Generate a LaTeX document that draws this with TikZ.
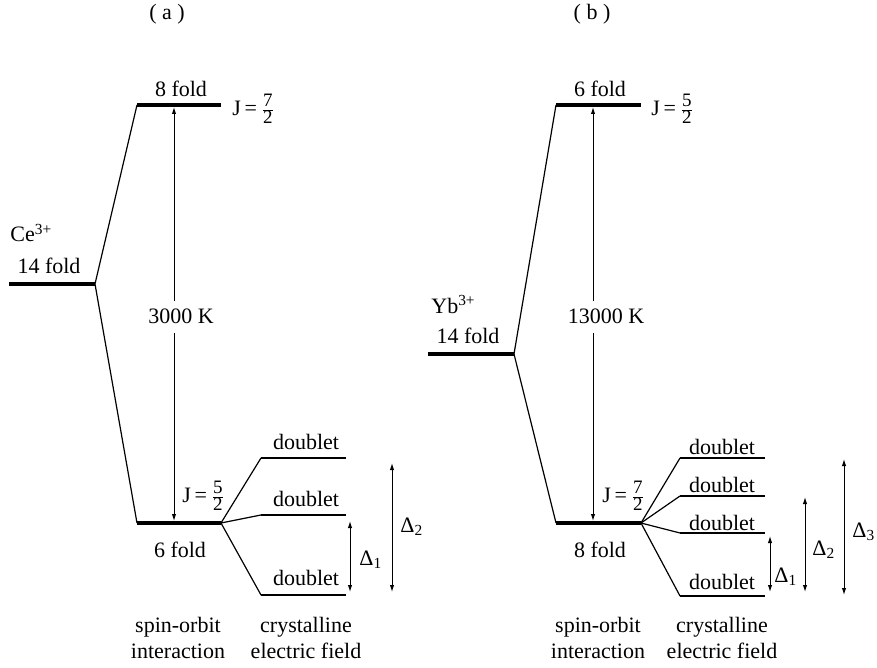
\documentclass[tikz,border=0pt]{standalone}
\usepackage{fontspec}
\setmainfont{Liberation Serif}
\usetikzlibrary{arrows.meta}

% fraction set in the text face
\newcommand{\tfr}[2]{$\frac{\mbox{\fontsize{9.5}{9.5}\selectfont #1}}{\mbox{\fontsize{9.5}{9.5}\selectfont #2}}$}
\newcommand{\dsub}[1]{Δ\textsubscript{#1}}

\begin{document}
\begin{tikzpicture}[x=0.5pt,y=-0.5pt,
  level/.style={line width=2pt},
  sublevel/.style={line width=1.2pt},
  link/.style={line width=0.6pt},
  gap/.style={line width=0.5pt,-{Latex[length=3.5pt,width=2.2pt]}},
  span/.style={line width=0.5pt,{Latex[length=3.5pt,width=2.2pt]}-{Latex[length=3.5pt,width=2.2pt]}},
  lbl/.style={font=\fontsize{11}{13}\selectfont, inner sep=0pt},
]
\useasboundingbox (0,0) rectangle (877,668);

% ---------------- (a) Ce3+ ----------------
\node[lbl, anchor=base] (ta) at (167,20) {( a )};

% levels
\coordinate (a14l) at (9,284);   \coordinate (a14r) at (95,284);
\coordinate (a8l)  at (137,105); \coordinate (a8r)  at (221,105);
\coordinate (a6l)  at (137,523); \coordinate (a6r)  at (221,523);
\coordinate (ad1l) at (261,458); \coordinate (ad1r) at (346,458);
\coordinate (ad2l) at (261,515); \coordinate (ad2r) at (346,515);
\coordinate (ad3l) at (261,595); \coordinate (ad3r) at (346,595);

\draw[level] (a14l) -- (a14r);
\draw[level] (a8l) -- (a8r);
\draw[level] (a6l) -- (a6r);
\draw[sublevel] (ad1l) -- (ad1r);
\draw[sublevel] (ad2l) -- (ad2r);
\draw[sublevel] (ad3l) -- (ad3r);

\draw[link] (a14r) -- (a8l);
\draw[link] (a14r) -- (a6l);
\draw[link] (a6r) -- (ad1l);
\draw[link] (a6r) -- (ad2l);
\draw[link] (a6r) -- (ad3l);

\node[lbl, anchor=base west] (cea) at (10,242) {Ce\textsuperscript{3+}};
\node[lbl, anchor=base] (f14a) at (49,273) {14 fold};
\node[lbl, anchor=base] (f8a) at (181,97) {8 fold};
\node[lbl, anchor=west] (j7a) at (232,109) {J\,=\,\tfr{7}{2}};
\node[lbl, anchor=base] (f6a) at (180,557) {6 fold};
\node[lbl, anchor=west] (j5a) at (182,496) {J\,=\,\tfr{5}{2}};
\node[lbl, anchor=base] (ka) at (181,323) {3000 K};

% splitting arrow
\coordinate (kau) at (174,301); \coordinate (kat) at (174,107);
\coordinate (kad) at (174,333); \coordinate (kab) at (174,521);
\draw[gap] (kau) -- (kat);
\draw[gap] (kad) -- (kab);

\node[lbl, anchor=base] (da1) at (306,449) {doublet};
\node[lbl, anchor=base] (da2) at (306,506) {doublet};
\node[lbl, anchor=base] (da3) at (306,585) {doublet};

% crystal-field gaps
\coordinate (aD1t) at (350,521); \coordinate (aD1b) at (350,592);
\coordinate (aD2t) at (392,463); \coordinate (aD2b) at (392,592);
\draw[span] (aD1t) -- (aD1b);
\draw[span] (aD2t) -- (aD2b);
\node[lbl, anchor=west] (aD1) at (359,560) {\dsub{1}};
\node[lbl, anchor=west] (aD2) at (400,527) {\dsub{2}};

\node[lbl, anchor=base] (soa) at (178,632) {spin-orbit};
\node[lbl, anchor=base] (soa2) at (178,658) {interaction};
\node[lbl, anchor=base] (cfa) at (306,632) {crystalline};
\node[lbl, anchor=base] (cfa2) at (306,658) {electric field};

% ---------------- (b) Yb3+ ----------------
\node[lbl, anchor=base] (tb) at (592,20) {( b )};

\coordinate (b14l) at (428,354); \coordinate (b14r) at (514,354);
\coordinate (b6l)  at (556,105); \coordinate (b6r)  at (641,105);
\coordinate (b8l)  at (556,523); \coordinate (b8r)  at (641,523);
\coordinate (bd1l) at (680,458); \coordinate (bd1r) at (765,458);
\coordinate (bd2l) at (680,496); \coordinate (bd2r) at (765,496);
\coordinate (bd3l) at (680,533); \coordinate (bd3r) at (765,533);
\coordinate (bd4l) at (680,596); \coordinate (bd4r) at (765,596);

\draw[level] (b14l) -- (b14r);
\draw[level] (b6l) -- (b6r);
\draw[level] (b8l) -- (b8r);
\draw[sublevel] (bd1l) -- (bd1r);
\draw[sublevel] (bd2l) -- (bd2r);
\draw[sublevel] (bd3l) -- (bd3r);
\draw[sublevel] (bd4l) -- (bd4r);

\draw[link] (b14r) -- (b6l);
\draw[link] (b14r) -- (b8l);
\draw[link] (b8r) -- (bd1l);
\draw[link] (b8r) -- (bd2l);
\draw[link] (b8r) -- (bd3l);
\draw[link] (b8r) -- (bd4l);

\node[lbl, anchor=base west] (ybb) at (431,313) {Yb\textsuperscript{3+}};
\node[lbl, anchor=base] (f14b) at (468,343) {14 fold};
\node[lbl, anchor=base] (f6b) at (600,97) {6 fold};
\node[lbl, anchor=west] (j5b) at (651,109) {J\,=\,\tfr{5}{2}};
\node[lbl, anchor=base] (f8b) at (600,557) {8 fold};
\node[lbl, anchor=west] (j7b) at (602,496) {J\,=\,\tfr{7}{2}};
\node[lbl, anchor=base] (kb) at (606,323) {13000 K};

\coordinate (kbu) at (593,301); \coordinate (kbt) at (593,107);
\coordinate (kbd) at (593,333); \coordinate (kbb) at (593,521);
\draw[gap] (kbu) -- (kbt);
\draw[gap] (kbd) -- (kbb);

\node[lbl, anchor=base] (db1) at (722,454) {doublet};
\node[lbl, anchor=base] (db2) at (722,492) {doublet};
\node[lbl, anchor=base] (db3) at (722,530) {doublet};
\node[lbl, anchor=base] (db4) at (722,589) {doublet};

\coordinate (bD1t) at (770,536); \coordinate (bD1b) at (770,592);
\coordinate (bD2t) at (805,497); \coordinate (bD2b) at (805,592);
\coordinate (bD3t) at (844,459); \coordinate (bD3b) at (844,595);
\draw[span] (bD1t) -- (bD1b);
\draw[span] (bD2t) -- (bD2b);
\draw[span] (bD3t) -- (bD3b);
\node[lbl, anchor=west] (bD1) at (774,577) {\dsub{1}};
\node[lbl, anchor=west] (bD2) at (812,550) {\dsub{2}};
\node[lbl, anchor=west] (bD3) at (852,532) {\dsub{3}};

\node[lbl, anchor=base] (sob) at (598,632) {spin-orbit};
\node[lbl, anchor=base] (sob2) at (598,658) {interaction};
\node[lbl, anchor=base] (cfb) at (722,632) {crystalline};
\node[lbl, anchor=base] (cfb2) at (722,658) {electric field};
\end{tikzpicture}
\end{document}
